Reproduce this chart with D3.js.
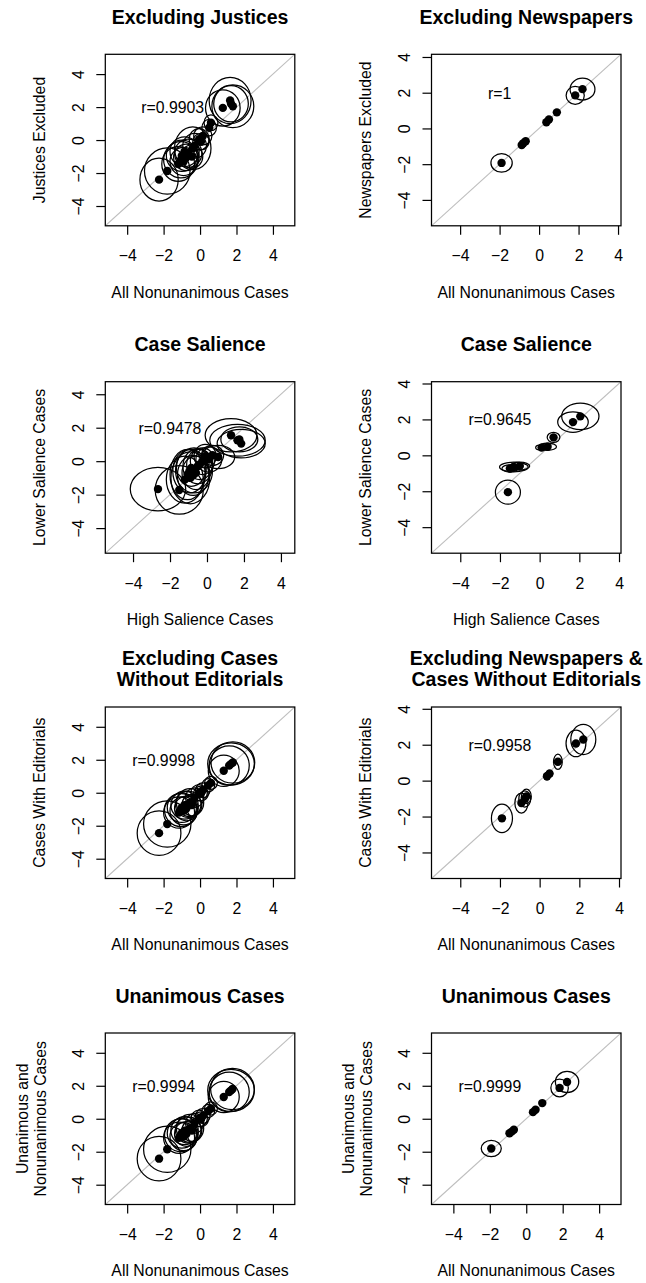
<!DOCTYPE html>
<html><head><meta charset="utf-8">
<script src="https://cdn.jsdelivr.net/npm/d3@7"></script>
<style>
body{margin:0;background:#fff}
svg{display:block}
text{font-family:"Liberation Sans",Arial,Helvetica,sans-serif;fill:#000}
</style>
</head><body>
<svg id="chart" width="646" height="1283"></svg>
<script>
// ---------- data ----------
const titles = [
  ["Excluding Justices"], ["Excluding Newspapers"],
  ["Case Salience"], ["Case Salience"],
  ["Excluding Cases", "Without Editorials"], ["Excluding Newspapers &", "Cases Without Editorials"],
  ["Unanimous Cases"], ["Unanimous Cases"]
];
const xLabels = ["All Nonunanimous Cases","All Nonunanimous Cases","High Salience Cases","High Salience Cases",
  "All Nonunanimous Cases","All Nonunanimous Cases","All Nonunanimous Cases","All Nonunanimous Cases"];
const yLabels = [["Justices Excluded"],["Newspapers Excluded"],["Lower Salience Cases"],["Lower Salience Cases"],
  ["Cases With Editorials"],["Cases With Editorials"],["Unanimous and","Nonunanimous Cases"],["Unanimous and","Nonunanimous Cases"]];
const rLabels = ["r=0.9903","r=1","r=0.9478","r=0.9645","r=0.9998","r=0.9958","r=0.9994","r=0.9999"];
const rLabelX = [-1.5,-2,-2,-2,-2,-2,-2,-2];
const rLabelY = [2,2,2,2,2,2,2,2];
const tickValues = [-4,-2,0,2,4];
const axisLimits = [[-5.2,5.2],[-5.45,4.15],[-5.5,4.75],[-5.45,4.1],[-5.2,5.2],[-5.45,4.1],[-5.2,5.2],[-5.2,5.2]];

// each entry: [x, y, ellipse half-width, ellipse half-height] in data units
const excludingJustices = [
 [-2.25,-2.4,1.05,1.3],[-1.8,-1.88,1.25,1.4],[-1.2,-1.45,0.9,1.05],[-1.05,-1.2,0.95,1.1],
 [-1.0,-0.95,0.85,0.95],[-0.9,-1.3,0.75,0.85],[-0.85,-0.7,0.8,0.9],[-0.75,-1.05,0.7,0.8],
 [-0.65,-0.8,0.75,0.85],[-0.4,-0.5,1.0,1.3],[-0.45,-1.0,0.6,0.7],[-0.3,-0.35,0.65,0.75],
 [-0.05,0.05,0.55,0.65],[0.05,-0.1,0.45,0.5],[0.15,0.25,0.5,0.55],[0.5,0.75,0.4,0.5],
 [0.6,1.05,0.38,0.48],[1.25,1.95,0.95,1.1],[1.65,2.4,1.15,1.4],[1.8,2.05,1.15,1.3],[1.7,2.2,0.95,1.1]
];
const excludingNewspapers = [
 [-1.9,-1.93,0.54,0.52],[-0.88,-0.93,0.15,0.15],[-0.8,-0.83,0.15,0.15],[-0.68,-0.72,0.15,0.15],
 [0.37,0.35,0.12,0.12],[0.5,0.5,0.12,0.12],[0.9,0.9,0.12,0.12],[1.83,1.85,0.46,0.5],[2.2,2.2,0.63,0.61]
];
const salienceNewspapers = [
 [-2.65,-1.67,1.5,1.3],[-1.5,-1.72,1.3,1.45],[-1.2,-1.1,1.0,1.4],[-1.05,-0.8,0.95,1.5],
 [-0.95,-0.6,0.9,1.3],[-0.9,-1.0,1.05,1.55],[-0.85,-0.4,0.8,1.1],[-0.75,-0.85,0.85,1.2],
 [-0.7,-0.55,1.0,1.35],[-0.6,-0.7,0.75,1.0],[-0.5,-0.3,0.8,1.05],[-0.4,-0.2,0.7,0.9],
 [-0.25,0.0,0.65,0.8],[-0.1,0.3,0.6,0.7],[0.1,0.1,0.7,0.75],[0.3,0.35,0.6,0.6],
 [0.6,0.25,0.9,0.7],[1.3,1.55,1.4,1.0],[1.65,1.25,1.5,0.95],[1.85,1.05,1.3,0.85],[1.75,1.3,1.0,0.75]
];
const salienceJustices = [
 [-1.6,-2.05,0.63,0.67],[-1.5,-0.73,0.4,0.2],[-1.3,-0.65,0.72,0.27],[-1.0,-0.6,0.5,0.22],
 [0.1,0.43,0.3,0.15],[0.4,0.48,0.45,0.2],[0.7,1.0,0.32,0.28],[1.68,1.85,0.77,0.57],[2.05,2.17,0.94,0.74]
];
const editorialsNewspapers = [
 [-2.25,-2.45,1.2,1.35],[-1.8,-1.9,1.3,1.4],[-1.15,-1.2,0.85,0.95],[-1.05,-1.05,0.9,1.0],
 [-1.0,-0.9,0.8,0.9],[-0.9,-1.1,0.75,0.85],[-0.85,-0.75,0.75,0.85],[-0.75,-0.95,0.65,0.75],
 [-0.65,-0.7,0.7,0.8],[-0.55,-0.6,0.75,0.85],[-0.45,-0.75,0.55,0.65],[-0.3,-0.3,0.5,0.6],
 [-0.05,0.0,0.45,0.5],[0.05,-0.05,0.4,0.45],[0.15,0.15,0.4,0.45],[0.45,0.45,0.35,0.4],
 [0.6,0.6,0.35,0.4],[1.3,1.33,0.85,0.95],[1.6,1.65,1.1,1.2],[1.8,1.83,1.2,1.25],[1.7,1.75,1.28,1.28]
];
const editorialsJustices = [
 [-1.9,-2.1,0.53,0.79],[-0.92,-1.25,0.33,0.56],[-0.75,-1.02,0.3,0.45],[-0.67,-0.88,0.25,0.4],
 [0.37,0.24,0.15,0.2],[0.5,0.39,0.15,0.2],[0.92,1.05,0.22,0.42],[1.83,2.07,0.5,0.74],[2.2,2.29,0.63,0.84]
];
const unanimousNewspapers = [
 [-2.25,-2.42,1.2,1.35],[-1.8,-1.85,1.3,1.4],[-1.15,-1.15,0.85,0.95],[-1.05,-1.0,0.9,1.0],
 [-1.0,-0.88,0.8,0.9],[-0.9,-1.08,0.75,0.85],[-0.85,-0.72,0.75,0.85],[-0.75,-0.92,0.65,0.75],
 [-0.65,-0.68,0.7,0.8],[-0.55,-0.58,0.75,0.85],[-0.45,-0.72,0.55,0.65],[-0.3,-0.28,0.5,0.6],
 [-0.05,0.02,0.45,0.5],[0.05,-0.04,0.4,0.45],[0.15,0.17,0.4,0.45],[0.45,0.47,0.35,0.4],
 [0.6,0.62,0.35,0.4],[1.3,1.32,0.85,0.95],[1.6,1.62,1.1,1.2],[1.78,1.8,1.2,1.25],[1.7,1.72,1.28,1.28]
];
const unanimousJustices = [
 [-1.92,-1.8,0.55,0.49],[-0.92,-0.88,0.15,0.15],[-0.8,-0.78,0.15,0.15],[-0.68,-0.67,0.15,0.15],
 [0.37,0.4,0.12,0.12],[0.51,0.55,0.12,0.12],[0.88,0.95,0.12,0.12],[1.83,1.87,0.48,0.54],[2.24,2.23,0.64,0.64]
];
const panelData = [excludingJustices, excludingNewspapers, salienceNewspapers, salienceJustices,
  editorialsNewspapers, editorialsJustices, unanimousNewspapers, unanimousJustices];

// ---------- layout ----------
const colLeft = [105.3, 431.5];
const boxW = 189.5;
const rowTop = [54.3, 381.7, 707, 1033];
const boxH = 171.5;
const fs = 15.8;

const svg = d3.select("#chart");
const fmt = d => (d < 0 ? "\u2212" + Math.abs(d) : String(d));

panelData.forEach((pts, i) => {
  const col = i % 2, row = Math.floor(i / 2);
  const bx = colLeft[col], by = rowTop[row];
  const lim = axisLimits[i];
  const x = d3.scaleLinear().domain(lim).range([bx, bx + boxW]);
  const y = d3.scaleLinear().domain(lim).range([by + boxH, by]);
  const g = svg.append("g");

  const clipId = "clip" + i;
  g.append("clipPath").attr("id", clipId).append("rect")
    .attr("x", bx).attr("y", by).attr("width", boxW).attr("height", boxH);

  // diagonal
  g.append("line").attr("clip-path", `url(#${clipId})`)
    .attr("x1", x(lim[0])).attr("y1", y(lim[0])).attr("x2", x(lim[1])).attr("y2", y(lim[1]))
    .attr("stroke", "#bebebe").attr("stroke-width", 1.1);

  const inner = g.append("g").attr("clip-path", `url(#${clipId})`);
  inner.selectAll("ellipse").data(pts).join("ellipse")
    .attr("cx", d => x(d[0])).attr("cy", d => y(d[1]))
    .attr("rx", d => x(d[0] + d[2]) - x(d[0]))
    .attr("ry", d => y(d[1]) - y(d[1] + d[3]))
    .attr("fill", "none").attr("stroke", "#000").attr("stroke-width", 1.25);
  inner.selectAll("circle").data(pts).join("circle")
    .attr("cx", d => x(d[0])).attr("cy", d => y(d[1])).attr("r", 4.2).attr("fill", "#000");

  // box
  g.append("rect").attr("x", bx).attr("y", by).attr("width", boxW).attr("height", boxH)
    .attr("fill", "none").attr("stroke", "#000").attr("stroke-width", 1.25);

  // x axis
  const xa = g.append("g").attr("transform", `translate(0,${by + boxH})`)
    .call(d3.axisBottom(x).tickValues(tickValues).tickSize(9).tickFormat(fmt));
  xa.select(".domain").remove();
  xa.selectAll(".tick line").attr("stroke", "#000").attr("stroke-width", 1.2);
  xa.selectAll(".tick text").attr("y", 35.7).attr("dy", null)
    .attr("font-size", fs).attr("font-family", null).attr("fill", "#000");

  // y axis
  const ya = g.append("g").attr("transform", `translate(${bx},0)`)
    .call(d3.axisLeft(y).tickValues(tickValues).tickSize(9).tickFormat(fmt));
  ya.select(".domain").remove();
  ya.selectAll(".tick line").attr("stroke", "#000").attr("stroke-width", 1.2);
  ya.selectAll(".tick text").attr("transform", "rotate(-90)")
    .attr("x", 0).attr("y", -21.3).attr("dy", null).attr("text-anchor", "middle")
    .attr("font-size", fs).attr("font-family", null).attr("fill", "#000");

  // x label
  g.append("text").attr("x", bx + boxW / 2).attr("y", by + boxH + 71.7)
    .attr("text-anchor", "middle").attr("font-size", fs).text(xLabels[i]);

  // y label
  const yl = yLabels[i];
  const yBase = yl.length === 1 ? [60.3] : [77.2, 59.5];
  yl.forEach((t, k) => {
    g.append("text")
      .attr("transform", `translate(${bx - yBase[k]},${by + boxH / 2}) rotate(-90)`)
      .attr("text-anchor", "middle").attr("font-size", fs).text(t);
  });

  // title
  const tl = titles[i];
  const tBase = tl.length === 1 ? [30.5] : [42.4, 21];
  tl.forEach((t, k) => {
    g.append("text").attr("x", bx + boxW / 2).attr("y", by - tBase[k])
      .attr("text-anchor", "middle").attr("font-size", 19.5).attr("font-weight", "bold").text(t);
  });

  // correlation label
  g.append("text").attr("x", x(rLabelX[i])).attr("y", y(rLabelY[i]) + 6)
    .attr("text-anchor", "middle").attr("font-size", fs).text(rLabels[i]);
});
</script>
</body></html>
